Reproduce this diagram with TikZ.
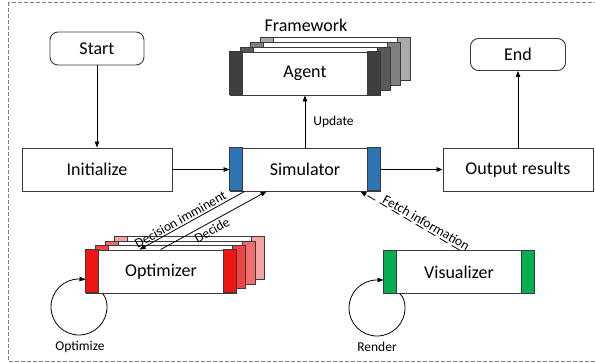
\documentclass[tikz,border=0pt]{standalone}
\usepackage{fontspec}
\setmainfont{Carlito}
\usetikzlibrary{arrows.meta,calc}
\definecolor{simblue}{HTML}{2E75B6}
\definecolor{visgreen}{HTML}{00B050}
\definecolor{red0}{HTML}{EE1515}
\definecolor{red1}{HTML}{F04444}
\definecolor{red2}{HTML}{F36C6C}
\definecolor{red3}{HTML}{F7A2A2}
\definecolor{ag0}{HTML}{3F3F3F}
\definecolor{ag1}{HTML}{5A5A5A}
\definecolor{ag2}{HTML}{808080}
\definecolor{ag3}{HTML}{ABABAB}
\definecolor{edgegray}{HTML}{3A3A3A}
\begin{document}
\begin{tikzpicture}[x=1pt,y=-1pt,
  box/.style={draw=edgegray, line width=0.9pt, fill=white, minimum width=150pt, minimum height=43pt, inner sep=0pt, font=\fontsize{18}{20}\selectfont},
  term/.style={box, rounded corners=8pt, minimum width=94pt, minimum height=33pt},
  stackline/.style={draw=edgegray, line width=0.9pt},
  lbl/.style={font=\fontsize{13.5}{15}\selectfont, inner sep=2pt},
  arr/.style={-{Triangle[length=6pt,width=4.5pt]}, line width=0.8pt, draw=black}
]
\useasboundingbox (0,0) rectangle (595,362);
\draw[dashed, draw=gray, line width=0.8pt, dash pattern=on 4pt off 2pt] (8,2) rectangle (610,361);

% terminals and main boxes
\node[term] (start) at (97,48.5) {Start};
\node[term, minimum width=95pt, minimum height=32pt] (end) at (518,54.5) {End};
\node[box] (init) at (97,169.5) {Initialize};
\node[box] (sim) at (305,169.5) {Simulator};
\node[box] (out) at (518,169.5) {Output results};
\draw[stackline, fill=simblue] (sim.north west) rectangle ++(13,43);
\draw[stackline, fill=simblue] (sim.north east) rectangle ++(-13,43);

% agent stack
\node[font=\fontsize{18}{20}\selectfont] (fw) at (306,25) {Framework};
\foreach \k/\c in {3/ag3,2/ag2,1/ag1}{
  \draw[stackline, fill=white] (230+10*\k,52-5*\k) rectangle ++(150,43);
  \draw[stackline, fill=\c] (230+10*\k,52-5*\k) rectangle ++(13,43);
  \draw[stackline, fill=\c] (380+10*\k,52-5*\k) rectangle ++(-13,43);
}
\node[box] (agent) at (305,73.5) {Agent};
\draw[stackline, fill=ag0] (agent.north west) rectangle ++(13,43);
\draw[stackline, fill=ag0] (agent.north east) rectangle ++(-13,43);

% optimizer stack
\foreach \k/\c in {3/red3,2/red2,1/red1}{
  \draw[stackline, fill=white] (86+9.5*\k,250-4.5*\k) rectangle ++(150,43);
  \draw[stackline, fill=\c] (86+9.5*\k,250-4.5*\k) rectangle ++(13,43);
  \draw[stackline, fill=\c] (236+9.5*\k,250-4.5*\k) rectangle ++(-13,43);
}
\node[box] (opt) at (161,271.5) {Optimizer};
\draw[stackline, fill=red0] (opt.north west) rectangle ++(13,43);
\draw[stackline, fill=red0] (opt.north east) rectangle ++(-13,43);

% visualizer
\node[box] (vis) at (459,272) {Visualizer};
\draw[stackline, fill=visgreen] (vis.north west) rectangle ++(13,43);
\draw[stackline, fill=visgreen] (vis.north east) rectangle ++(-13,43);

% connectors
\draw[arr] (start) -- (init);
\draw[arr] (init) -- (sim);
\draw[arr] (sim) -- (out);
\draw[arr] (out) -- (end);
\draw[arr] (sim) -- (agent) node[midway, right=6pt, lbl] {Update};

\draw[arr] ($(sim.south west)+(15,0)$) -- ($(opt.north west)+(54,0)$)
  node[pos=0.58, rotate=29.3, anchor=south, lbl, inner sep=1.5pt] {Decision imminent};
\draw[arr] ($(opt.north west)+(75,0)$) -- ($(sim.south west)+(37,0)$)
  node[pos=0.45, rotate=28.7, anchor=north, lbl, inner sep=2.5pt] {Decide};
\draw[arr, dash pattern=on 9pt off 5pt] ($(vis.north west)+(76,0)$) -- ($(sim.south east)+(-20,0)$)
  node[pos=0.37, rotate=-29.8, anchor=south, lbl, inner sep=1.5pt] {Fetch information};

% self loops
\draw[arr] ($(opt.south west)+(17,0)$) .. controls (105.5,297) and (107,301) .. (107,307)
  .. controls (107,322.5) and (94.5,335) .. (79,335)
  .. controls (63.5,335) and (51,322.5) .. (51,307)
  .. controls (51,291.5) and (63.5,279) .. (79,279) -- ($(opt.south west)+(0,-14)$);
\node[lbl] (optl) at (80,347) {Optimize};

\draw[arr] ($(vis.south west)+(16.5,0)$) .. controls (403.5,297) and (405,302) .. (405,308)
  .. controls (405,323.5) and (392.5,336) .. (377,336)
  .. controls (361.5,336) and (349,323.5) .. (349,308)
  .. controls (349,292.5) and (361.5,280) .. (377,280) -- ($(vis.south west)+(0,-14)$);
\node[lbl] (visl) at (377,347) {Render};
\end{tikzpicture}
\end{document}
